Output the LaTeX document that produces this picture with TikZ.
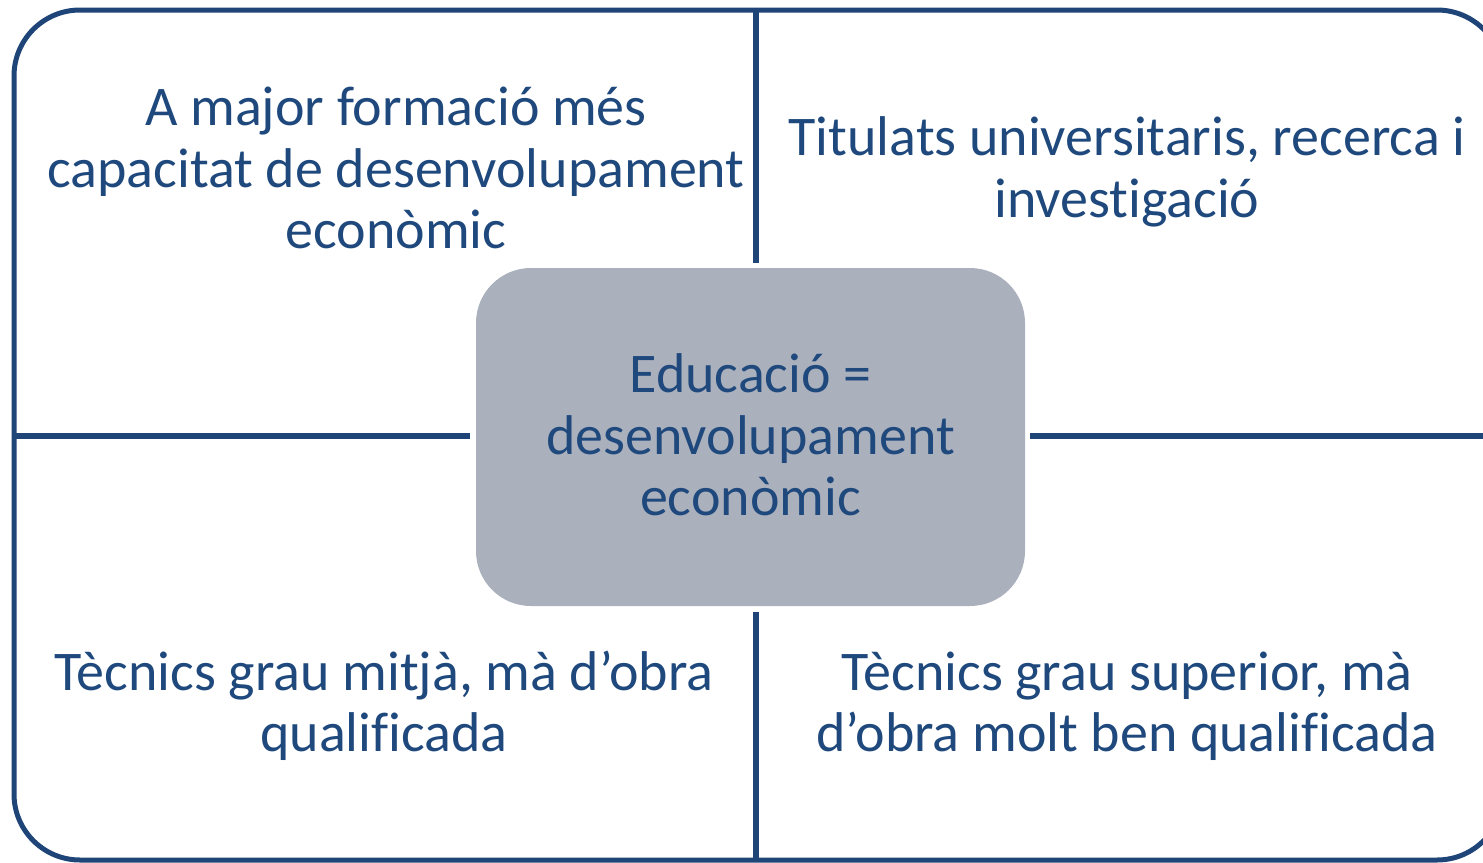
\documentclass[tikz,border=0pt]{standalone}
\usepackage{fontspec}
\setmainfont[Ligatures=NoCommon]{Carlito}
\usetikzlibrary{positioning,calc}
\definecolor{navy}{HTML}{1F4478}
\definecolor{slate}{HTML}{ABB0BD}
\definecolor{inktext}{HTML}{1F497D}

\begin{document}
\begin{tikzpicture}[x=1pt, y=-1pt,
  rule/.style={draw=navy, line width=5.5pt},
  label/.style={text=inktext, align=center, inner sep=0pt,
    font=\fontsize{56}{61.5}\selectfont}]
\useasboundingbox (0,0) rectangle (1483,862);
\clip (0,0) rectangle (1483,862);
\node[draw=navy, line width=5pt, rounded corners=66pt,
  minimum width=1489pt, minimum height=850pt, inner sep=0pt] (frame) at (758.5,435) {};
\node[fill=slate, rounded corners=55pt, minimum width=549pt,
  minimum height=338pt, inner sep=0pt] (edu) at (750.5,437) {};
\node[label] (core) at (750.5,435) {Educació =\\desenvolupament\\econòmic};

% line ends
\coordinate (ntop) at (756,10);
\coordinate (nend) at (756,263);
\coordinate (sbeg) at (756,612);
\coordinate (sbot) at (756,860);
\coordinate (wend) at (470,436);
\coordinate (ebeg) at (1030,436);
\draw[rule] (ntop) -- (nend);
\draw[rule] (sbeg) -- (sbot);
\draw[rule] (frame.west |- wend) -- (wend);
\draw[rule] (ebeg) -- (frame.east |- ebeg);

\node[label] (nw) at (396,168) {A major formació més\\capacitat de desenvolupament\\econòmic};
\node[label] (ne) at (1127,172) {Titulats universitaris, recerca i\\investigació};
\node[label] (sw) at (384,706) {Tècnics grau mitjà, mà d’obra\\qualificada};
\node[label] (se) at (1127,706) {Tècnics grau superior, mà\\d’obra molt ben qualificada};
\end{tikzpicture}
\end{document}
